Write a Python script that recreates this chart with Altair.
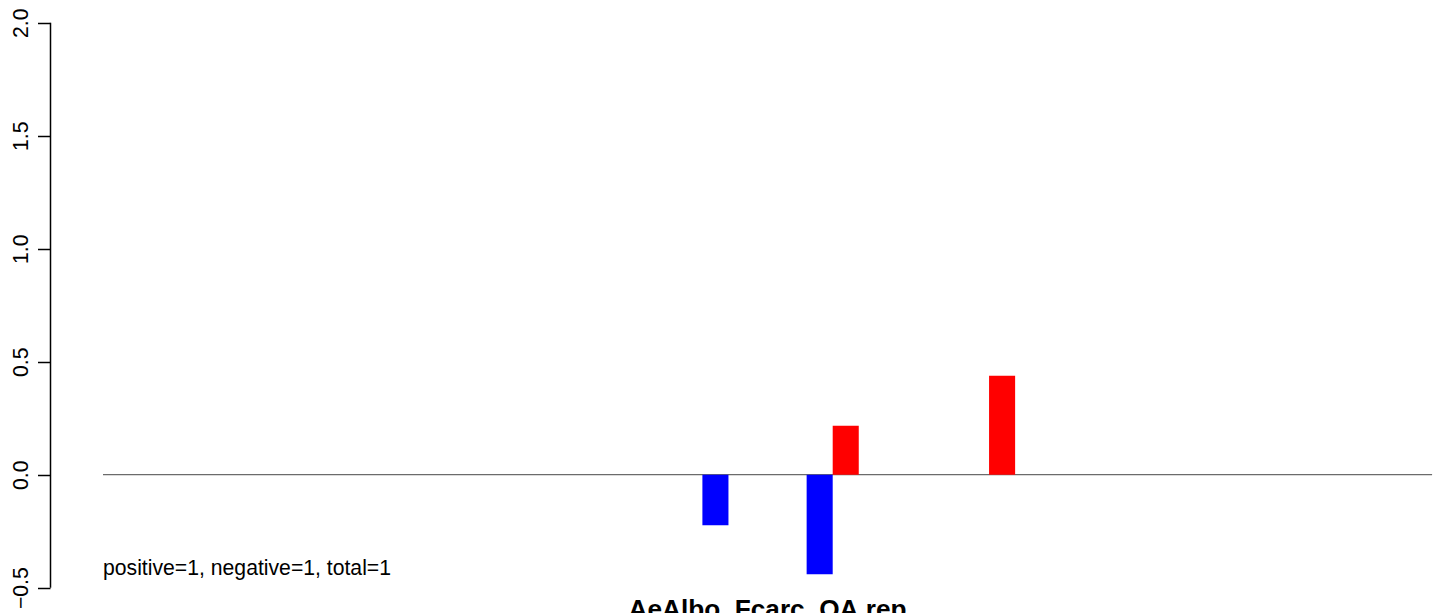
import altair as alt
import pandas as pd

# 51 bars (R barplot, width 1, no space); only four are non-zero
values = [0, 0, 0, 0, 0, 0, 0, 0, 0, 0,
          0, 0, 0, 0, 0, 0, 0, 0, 0, 0,
          0, 0, 0, -0.224, 0, 0, 0, -0.441, 0.217, 0,
          0, 0, 0, 0, 0.438, 0, 0, 0, 0, 0,
          0, 0, 0, 0, 0, 0, 0, 0, 0, 0,
          0]
y_ticks = [-0.5, 0.0, 0.5, 1.0, 1.5, 2.0]
annotation = "positive=1, negative=1, total=1"
main_title = "AeAlbo_Fcarc_QA.rep"

n = len(values)
bars = pd.DataFrame({
    "x0": list(range(n)),
    "x1": [i + 1 for i in range(n)],
    "value": values,
    "sign": ["pos" if v > 0 else "neg" for v in values],
})

FONT = "Liberation Sans"
xscale = alt.Scale(domain=[-2.034, 51.15], nice=False, zero=False)
yscale = alt.Scale(domain=[-0.612, 2.065], nice=False, zero=False)

bar_layer = alt.Chart(bars).transform_filter("datum.value != 0").mark_rect().encode(
    x=alt.X("x0:Q", scale=xscale, axis=None),
    x2="x1:Q",
    y=alt.Y("value:Q", scale=yscale,
            axis=alt.Axis(values=y_ticks, format=".1f", title=None, grid=False,
                          domain=False, tickSize=12.5, tickWidth=1.5, tickColor="black",
                          labelAngle=270, labelAlign="center", labelBaseline="alphabetic",
                          labelFont=FONT, labelFontSize=21.2, labelColor="black",
                          labelPadding=10, labelOverlap=False, labelFlush=False)),
    y2=alt.datum(0),
    color=alt.Color("sign:N", scale=alt.Scale(domain=["neg", "pos"], range=["#0000FF", "#FF0000"]),
                    legend=None),
)

zero_df = pd.DataFrame({"start": [0], "end": [n], "zero": [0.0]})
zero_line = alt.Chart(zero_df).mark_rule(color="#6b6b6b", strokeWidth=1.2).encode(
    x=alt.X("start:Q", scale=xscale, axis=None),
    x2="end:Q",
    y=alt.Y("zero:Q", scale=yscale),
)

axis_df = pd.DataFrame({"lo": [y_ticks[0]], "hi": [y_ticks[-1]]})
axis_line = alt.Chart(axis_df).mark_rule(color="black", strokeWidth=1.5).encode(
    x=alt.value(0.5),
    y=alt.Y("lo:Q", scale=yscale),
    y2="hi:Q",
)

ann_df = pd.DataFrame({"x": [0.0], "y": [-0.444], "t": [annotation]})
ann = alt.Chart(ann_df).mark_text(align="left", baseline="alphabetic", font=FONT,
                                  fontSize=21.2, color="black").encode(
    x=alt.X("x:Q", scale=xscale), y=alt.Y("y:Q", scale=yscale), text="t:N")

title_df = pd.DataFrame({"x": [25.5], "y": [-0.634], "t": [main_title]})
title = alt.Chart(title_df).mark_text(align="center", baseline="alphabetic", font=FONT,
                                      fontSize=26.2, fontWeight="bold", color="black").encode(
    x=alt.X("x:Q", scale=xscale), y=alt.Y("y:Q", scale=yscale), text="t:N")

chart = alt.layer(zero_line, bar_layer, axis_line, ann, title).properties(
    width=1386, height=605,
    autosize=alt.AutoSizeParams(type="none"),
    padding={"left": 42, "top": 0, "right": 0, "bottom": 0},
    background="white",
).configure_view(stroke=None)

chart.save("out.html", embed_options={"renderer": "svg", "actions": False})
